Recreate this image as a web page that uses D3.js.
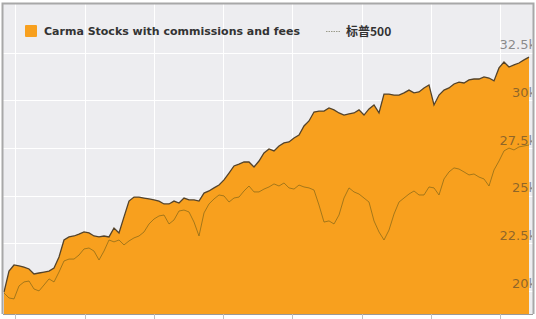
<!DOCTYPE html>
<html>
<head>
<meta charset="utf-8">
<script src="https://cdn.jsdelivr.net/npm/d3@7"></script>
<style>
  body { margin: 0; background: #fff; }
  svg { display: block; }
</style>
</head>
<body>
<svg width="536" height="319"></svg>
<script>
// weekly values
const carma = [
  19950, 21050, 21370, 21320, 21260, 21160, 20900, 20950, 21000, 21050,
  21210, 21790, 22680, 22840, 22890, 22990, 23100, 23050, 22890, 22840,
  22890, 22840, 23310, 23050, 23890, 24720, 24930, 24930, 24880, 24830,
  24780, 24720, 24570, 24570, 24720, 24620, 24880, 24780, 24780, 24720,
  25140, 25250, 25410, 25560, 25830, 26190, 26560, 26660, 26770, 26770,
  26510, 26820, 27240, 27450, 27350, 27610, 27770, 27820, 28030, 28180,
  28660, 28920, 29390, 29440, 29440, 29600, 29500, 29340, 29230, 29290,
  29340, 29500, 29230, 29550, 29760, 29340, 30330, 30330, 30280, 30280,
  30390, 30540, 30390, 30440, 30650, 30810, 29760, 30280, 30540, 30650,
  30860, 30960, 30910, 31070, 31120, 31120, 31230, 31170, 31020, 31700,
  32010, 31750, 31860, 31960, 32120, 32270
];
const sp500 = [
  19900, 19640, 19590, 20270, 20480, 20530, 20110, 20010, 20320, 20640,
  20480, 21000, 21580, 21680, 21680, 21890, 22210, 22260, 22100, 21630,
  22100, 22680, 22580, 22680, 22420, 22630, 22790, 22890, 23100, 23520,
  23780, 23940, 23990, 23520, 23730, 24200, 24250, 24150, 23620, 22890,
  24100, 24570, 24830, 25040, 24990, 24670, 24880, 24930, 25250, 25510,
  25200, 25200, 25350, 25460, 25620, 25510, 25670, 25410, 25350, 25560,
  25460, 25410, 25300, 24510, 23620, 23680, 23520, 23990, 24880, 25410,
  25200, 25090, 24880, 24670, 23680, 23100, 22680, 23200, 24040, 24670,
  24880, 25090, 25250, 25040, 25040, 25460, 25410, 25040, 25880, 26250,
  26460, 26400, 26250, 26090, 26140, 25980, 25880, 25510, 26350, 26820,
  27350, 27500, 27400, 27560, 27610, 27660
];
const yTicks = [20000, 22500, 25000, 27500, 30000, 32500];
const yTickLabels = ['20k', '22.5k', '25k', '27.5k', '30k', '32.5k'];
const xTicks = [2.2, 16.1, 29.9, 43.8, 57.6, 71.5, 85.3, 99.2];
const seriesNames = ['Carma Stocks with commissions and fees', '标普500'];

const svg = d3.select('svg');
const pLeft = 3, pRight = 533, pTop = 4, pBottom = 314;

const x = d3.scaleLinear().domain([0, carma.length - 1]).range([4, 529]);
const y = d3.scaleLinear().domain([18800, 35000]).range([pBottom, 5]);

svg.append('defs').append('clipPath').attr('id', 'clip')
  .append('rect').attr('x', pLeft).attr('y', pTop)
  .attr('width', pRight - pLeft - 1).attr('height', pBottom - pTop);

// plot background
svg.append('rect')
  .attr('x', pLeft).attr('y', pTop)
  .attr('width', pRight - pLeft).attr('height', pBottom - pTop)
  .attr('fill', '#ededf0');

// grid
svg.append('g').selectAll('line')
  .data(xTicks).enter().append('line')
  .attr('x1', d => Math.round(x(d)) + 0.5).attr('x2', d => Math.round(x(d)) + 0.5)
  .attr('y1', pTop).attr('y2', pBottom)
  .attr('stroke', '#fff').attr('stroke-width', 1);
svg.append('g').selectAll('line')
  .data(yTicks).enter().append('line')
  .attr('x1', pLeft).attr('x2', pRight)
  .attr('y1', d => Math.round(y(d)) + 0.5).attr('y2', d => Math.round(y(d)) + 0.5)
  .attr('stroke', '#fff').attr('stroke-width', 1);

// carma area
const area = d3.area()
  .x((d, i) => x(i))
  .y0(pBottom)
  .y1(d => y(d));
svg.append('path')
  .datum(carma)
  .attr('d', area)
  .attr('fill', '#f8a01e');

svg.append('path')
  .datum(carma)
  .attr('d', d3.line().x((d, i) => x(i)).y(d => y(d)))
  .attr('fill', 'none')
  .attr('stroke', '#54432a')
  .attr('stroke-width', 1.3);

// s&p line
svg.append('path')
  .datum(sp500)
  .attr('d', d3.line().x((d, i) => x(i)).y(d => y(d)))
  .attr('fill', 'none')
  .attr('stroke', '#7d6418')
  .attr('stroke-opacity', 0.85)
  .attr('stroke-width', 0.8);

// y labels on the right, inside the plot
svg.append('g')
  .attr('clip-path', 'url(#clip)')
  .selectAll('text')
  .data(yTicks).enter().append('text')
  .attr('x', 536)
  .attr('y', d => y(d) - 3.5)
  .attr('text-anchor', 'end')
  .attr('font-family', 'DejaVu Sans, sans-serif')
  .attr('font-size', 13)
  .attr('fill', '#333')
  .attr('fill-opacity', 0.55)
  .text((d, i) => yTickLabels[i]);

// x axis line and ticks
svg.append('line')
  .attr('x1', pLeft).attr('x2', pRight)
  .attr('y1', pBottom + 0.5).attr('y2', pBottom + 0.5)
  .attr('stroke', '#9a9a9a');
svg.append('g').selectAll('line')
  .data(xTicks).enter().append('line')
  .attr('x1', d => Math.round(x(d)) + 0.5).attr('x2', d => Math.round(x(d)) + 0.5)
  .attr('y1', pBottom).attr('y2', 319)
  .attr('stroke', '#c0c0c0');

// frame
svg.append('path')
  .attr('d', `M${pLeft - 0.5},${pBottom} V${pTop - 0.5} H${pRight + 0.5} V${pBottom}`)
  .attr('fill', 'none')
  .attr('stroke', '#a8a8a8')
  .attr('stroke-width', 2);

// legend
const legend = svg.append('g')
  .attr('font-family', 'DejaVu Sans, sans-serif')
  .attr('font-size', 11)
  .attr('font-weight', 'bold')
  .attr('fill', '#333');
legend.append('rect')
  .attr('x', 25).attr('y', 25).attr('width', 12).attr('height', 12)
  .attr('rx', 1).attr('fill', '#f8a01e');
legend.append('text')
  .attr('x', 44).attr('y', 35)
  .text(seriesNames[0]);
legend.append('line')
  .attr('x1', 326).attr('x2', 340).attr('y1', 31.5).attr('y2', 31.5)
  .attr('stroke', '#9a9a8a').attr('stroke-width', 1)
  .attr('stroke-dasharray', '1.5,1');
legend.append('text')
  .attr('x', 346).attr('y', 35.5)
  .attr('font-family', 'Noto Sans CJK SC, DejaVu Sans, sans-serif')
  .attr('font-size', 12)
  .text(seriesNames[1]);
</script>
</body>
</html>
